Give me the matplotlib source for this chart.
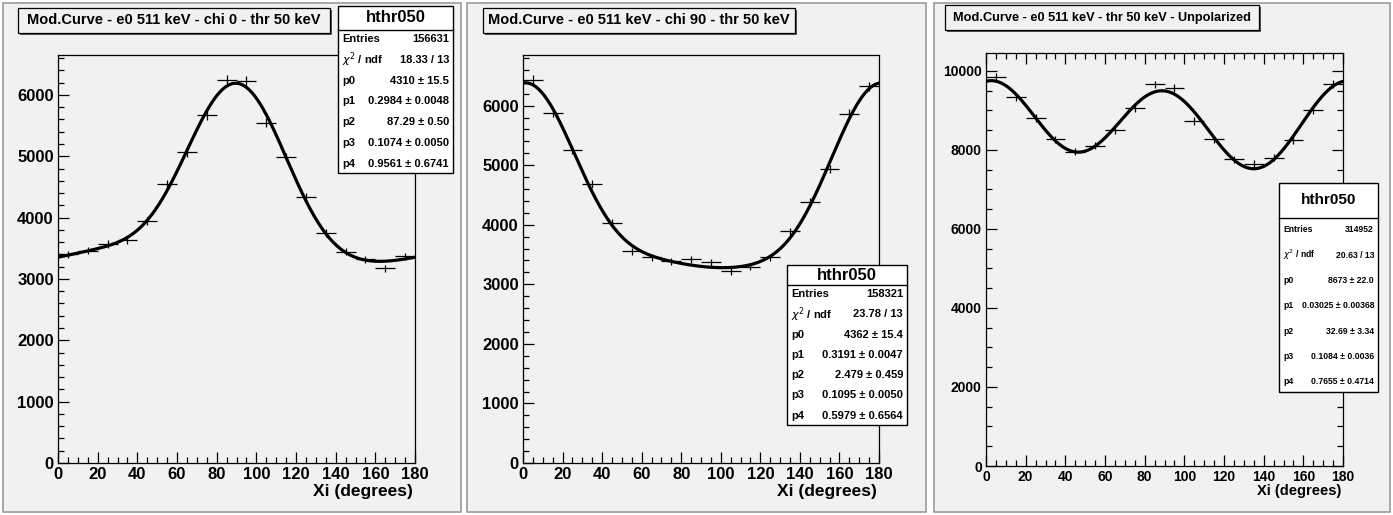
import numpy as np
import matplotlib
matplotlib.use("Agg")
import matplotlib.pyplot as plt
from matplotlib import font_manager
from matplotlib.patches import Rectangle
from matplotlib.ticker import MultipleLocator

# bin centres (10 degree bins)
xi = [5, 15, 25, 35, 45, 55, 65, 75, 85, 95, 105, 115, 125, 135, 145, 155, 165, 175]

# counts
counts_chi0 = [3399, 3458, 3567, 3627, 3941, 4544, 5065, 5668, 6238,
               6226, 5549, 4989, 4332, 3751, 3441, 3322, 3171, 3371]
counts_chi90 = [6438, 5878, 5252, 4681, 4032, 3557, 3451, 3389, 3418,
                3367, 3221, 3294, 3451, 3888, 4385, 4933, 5867, 6325]
counts_unpol = [9848, 9325, 8802, 8270, 7957, 8101, 8498, 9056, 9653,
                9561, 8726, 8270, 7765, 7646, 7805, 8245, 9013, 9671]

# fit parameters p0..p4 shown in the stat boxes
fit_chi0 = [4310, 0.2984, 87.29, 0.1074, 0.9561]
fit_chi90 = [4362, 0.3191, 2.479, 0.1095, 0.5979]
fit_unpol = [8673, 0.03025, 32.69, 0.1084, 0.7655]

titles = ["Mod.Curve - e0 511 keV - chi 0 - thr 50 keV",
          "Mod.Curve - e0 511 keV - chi 90 - thr 50 keV",
          "Mod.Curve - e0 511 keV - thr 50 keV - Unpolarized"]
entries = ["156631", "158321", "314952"]
chi2 = ["18.33 / 13", "23.78 / 13", "20.63 / 13"]
par_text = [
    ["4310 \u00b1 15.5", "0.2984 \u00b1 0.0048", "87.29 \u00b1 0.50",
     "0.1074 \u00b1 0.0050", "0.9561 \u00b1 0.6741"],
    ["4362 \u00b1 15.4", "0.3191 \u00b1 0.0047", "2.479 \u00b1 0.459",
     "0.1095 \u00b1 0.0050", "0.5979 \u00b1 0.6564"],
    ["8673 \u00b1 22.0", "0.03025 \u00b1 0.00368", "32.69 \u00b1 3.34",
     "0.1084 \u00b1 0.0036", "0.7655 \u00b1 0.4714"],
]

W, H = 1393, 515
BG = "#f1f1f1"

names = {f.name for f in font_manager.fontManager.ttflist}
FAM = "Liberation Sans" if "Liberation Sans" in names else "DejaVu Sans"

fig = plt.figure(figsize=(W / 100, H / 100), dpi=100)
fig.patch.set_facecolor("white")


def fx(px):
    return px / W


def fy(py):
    return 1 - py / H


def frect(x0, y0, x1, y1, **kw):
    r = Rectangle((fx(x0), fy(y1)), fx(x1 - x0), (y1 - y0) / H,
                  transform=fig.transFigure, **kw)
    fig.add_artist(r)
    return r


def fit_curve(x, p):
    x = np.asarray(x, dtype=float)
    return (p[0] * (1 + p[1] * np.cos(np.radians(2 * (x - p[2]))))
            * (1 + p[3] * np.cos(np.radians(4 * (x - p[4])))))


# layout in pixels
pads = [(3, 3, 461, 512), (467, 3, 926, 512), (934, 3, 1390, 512)]
axes_px = [(58, 55, 415, 463), (523, 55, 879, 463), (986, 53, 1343, 466)]
ymax = [6650, 6850, 10450]
title_px = [(18, 8, 330, 33), (483, 8, 795, 33), (945, 5, 1259, 30)]
stat_px = [(338, 6, 453, 173, 30, 39, 20.8),
           (787, 265, 907, 425, 285, 294, 20.3),
           (1279, 183, 1378, 392, 218, 230, 25.3)]
counts = [counts_chi0, counts_chi90, counts_unpol]
fits = [fit_chi0, fit_chi90, fit_unpol]

# the third pad was drawn with a squeezed font: smaller sizes there
tick_fs = [12, 12, 10]
xlab_fs = [12.5, 12.5, 10.5]
title_fs = [10.5, 10.5, 9.2]
head_fs = [12, 12, 11]
stat_fs = [8, 8, 6.2]

for i in range(3):
    px0, py0, px1, py1 = pads[i]
    frect(px0, py0, px1, py1, facecolor=BG, edgecolor="#9a9a9a", lw=1.2, zorder=-10)

    l, t, r, b = axes_px[i]
    ax = fig.add_axes([fx(l), fy(b), fx(r - l), (b - t) / H])
    ax.set_facecolor(BG)
    y = np.array(counts[i], dtype=float)
    ax.errorbar(xi, y, xerr=5, yerr=np.sqrt(y), fmt="none", ecolor="black",
                elinewidth=0.9, capsize=0, zorder=2)
    xs = np.linspace(0, 180, 400)
    ax.plot(xs, fit_curve(xs, fits[i]), color="black", lw=2.3, zorder=3)
    ax.set_xlim(0, 180)
    ax.set_ylim(0, ymax[i])
    ax.xaxis.set_major_locator(MultipleLocator(20))
    ax.xaxis.set_minor_locator(MultipleLocator(5))
    if i == 2:
        ax.yaxis.set_major_locator(MultipleLocator(2000))
        ax.yaxis.set_minor_locator(MultipleLocator(500))
        ax.tick_params(which="both", top=True, right=True)
    else:
        ax.yaxis.set_major_locator(MultipleLocator(1000))
        ax.yaxis.set_minor_locator(MultipleLocator(200))
    ax.tick_params(which="both", direction="in", color="black", width=0.9)
    ax.tick_params(which="major", length=8)
    ax.tick_params(which="minor", length=4.5)
    ax.tick_params(axis="y", pad=3)
    ax.tick_params(axis="x", pad=3)
    for lab in ax.get_xticklabels() + ax.get_yticklabels():
        lab.set_fontfamily(FAM)
        lab.set_fontweight("bold")
        lab.set_fontsize(tick_fs[i])
    for s in ax.spines.values():
        s.set_linewidth(0.9)
    fig.text(fx(r - 2), fy(484), "Xi (degrees)", ha="right", va="top",
             fontsize=xlab_fs[i], fontweight="bold", family=FAM)

    # title box with shadow
    x0, y0, x1, y1 = title_px[i]
    frect(x0 + 2, y0 + 2, x1 + 2, y1 + 2, facecolor="#555555", edgecolor="none", zorder=4)
    frect(x0, y0, x1, y1, facecolor=BG, edgecolor="black", lw=0.9, zorder=5)
    fig.text(fx((x0 + x1) / 2), fy((y0 + y1) / 2), titles[i], ha="center", va="center",
             fontsize=title_fs[i], fontweight="bold", family=FAM, zorder=6)

    # stat box
    sx0, sy0, sx1, sy1, sdiv, row0, dy = stat_px[i]
    frect(sx0, sy0, sx1, sy1, facecolor="white", edgecolor="black", lw=1.0, zorder=5)
    fig.add_artist(plt.Line2D([fx(sx0), fx(sx1)], [fy(sdiv), fy(sdiv)],
                              transform=fig.transFigure, color="black", lw=1.0, zorder=6))
    fig.text(fx((sx0 + sx1) / 2), fy((sy0 + sdiv) / 2), "hthr050", ha="center",
             va="center", fontsize=head_fs[i], fontweight="bold", family=FAM, zorder=7)
    labels = ["Entries", r"$\chi^2$ / ndf", "p0", "p1", "p2", "p3", "p4"]
    values = [entries[i], chi2[i]] + par_text[i]
    for k, (lab, val) in enumerate(zip(labels, values)):
        yy = fy(row0 + k * dy)
        fig.text(fx(sx0 + 4), yy, lab, ha="left", va="center", fontsize=stat_fs[i],
                 fontweight="bold", family=FAM, zorder=7)
        fig.text(fx(sx1 - 4), yy, val, ha="right", va="center", fontsize=stat_fs[i],
                 fontweight="bold", family=FAM, zorder=7)

fig.savefig("out.png", dpi=100)
